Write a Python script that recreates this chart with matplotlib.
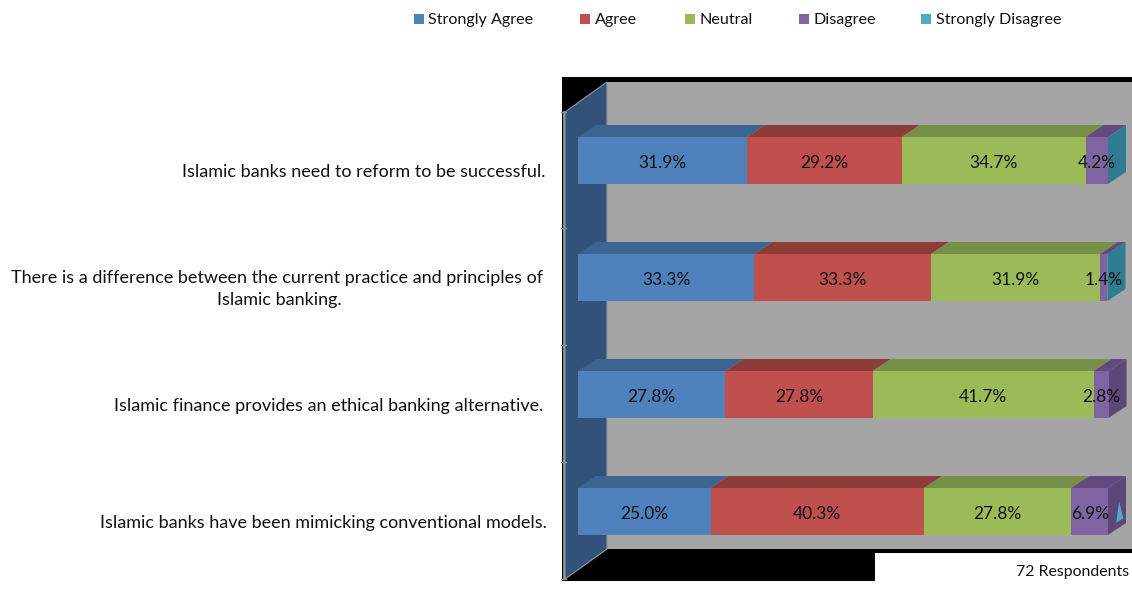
import numpy as np
import matplotlib
matplotlib.use('Agg')
import matplotlib.pyplot as plt
from matplotlib.patches import Polygon, Rectangle

#---------------------- DATA
statements = ["Islamic banks need to reform to be successful.",
              "There is a difference between the current practice and principles of\nIslamic banking.",
              "Islamic finance provides an ethical banking alternative.",
              "Islamic banks have been mimicking conventional models."]
series = ["Strongly Agree", "Agree", "Neutral", "Disagree", "Strongly Disagree"]
strongly_agree = [31.9, 33.3, 27.8, 25.0]
agree = [29.2, 33.3, 27.8, 40.3]
neutral = [34.7, 31.9, 41.7, 27.8]
disagree = [4.2, 1.4, 2.8, 6.9]
strongly_disagree = [0.0, 0.0, 0.0, 0.0]
values = [strongly_agree, agree, neutral, disagree, strongly_disagree]
respondents = "72 Respondents"

colors = ['#4f81bd', '#c0504d', '#9bbb59', '#8064a2', '#4bacc6']
tops = ['#3c6491', '#8e3c3a', '#76904a', '#62497f', '#327c90']
sides = ['#3a6188', '#8e3c3a', '#76904a', '#5d4678', '#2f7b8f']
last_side = [4, 4, 3, 3]

W, H = 1132, 591
PX = 5.3      # pixels per percent
X0 = 578
ROW = 117
Y0 = 160.5
BH = 47 / ROW
DX = 18 / PX  # bar depth in data units
DY = 12 / ROW

plt.rcParams['font.family'] = ['Lato', 'DejaVu Sans']
fig = plt.figure(figsize=(W / 100, H / 100), dpi=100)
ax = fig.add_axes([0, 0, 1, 1])
ax.set_xlim(-X0 / PX, (W - X0) / PX)
ax.set_ylim((H - Y0) / ROW, -Y0 / ROW)
ax.axis('off')

def dx(px):
    return (px - X0) / PX

def dy(py):
    return (py - Y0) / ROW

def poly(pts, **kw):
    ax.add_patch(Polygon([(dx(a), dy(b)) for a, b in pts], closed=True, **kw))

#---> chart walls
poly([(562, 77), (1132, 77), (1132, 581), (562, 581)], fc='black', ec='none', zorder=1)
poly([(607, 82), (1132, 82), (1132, 549), (607, 549)], fc='#a5a5a5', ec='none', zorder=2)
poly([(565, 112), (607, 82), (607, 549), (565, 579)], fc='#33527a', ec='#8a9aa8', lw=0.8, zorder=3)
ax.plot([dx(564), dx(564)], [dy(112), dy(579)], color='#a0a0a0', lw=1.2, zorder=4)
for t in [112, 228, 345, 462, 579]:
    ax.plot([dx(561), dx(566)], [dy(t), dy(t)], color='#909090', lw=1, zorder=4)

#---> bars
ypos = np.arange(len(statements))
for r in ypos:
    left = 0.0
    top = r - BH / 2
    bot = r + BH / 2
    for s in range(len(series)):
        v = values[s][r]
        if v > 0:
            ax.barh(r, v, BH, left=left, color=colors[s], edgecolor='none', zorder=6)
            ax.add_patch(Polygon([(left, top), (left + v, top), (left + v + DX, top - DY), (left + DX, top - DY)],
                                 closed=True, fc=tops[s], ec='none', zorder=5))
            ax.text(left + v / 2, r + 0.02, "%.1f%%" % v, ha='center', va='center', fontsize=12.5,
                    color='#111111', zorder=8)
        left += v
    c = sides[last_side[r]]
    ax.add_patch(Polygon([(left, top), (left + DX, top - DY), (left + DX, bot - DY), (left, bot)],
                         closed=True, fc=c, ec='none', zorder=5))
    if r == 3:
        ax.add_patch(Polygon([(left + DX * 0.45, bot - DY * 1.0), (left + DX * 0.62, bot - DY * 2.8),
                              (left + DX * 0.85, bot - DY * 1.4)], closed=True, fc=colors[4],
                             ec='none', zorder=6))

#---> category labels
for r, s in enumerate(statements):
    right = [546, 543, 543, 547][r]
    yc = r + 16.5 / ROW   # baseline below the bar centre
    if '\n' in s:
        a, b = s.split('\n')
        ax.text(dx(right), yc - 11.5 / ROW, a, ha='right', va='baseline', fontsize=13, color='#111111')
        ax.text(dx(279), yc + 11.5 / ROW, b, ha='center', va='baseline', fontsize=13, color='#111111')
    else:
        ax.text(dx(right), yc, s, ha='right', va='baseline', fontsize=13, color='#111111')

#---> legend
leg_x = [414, 580, 685, 799, 921]
for x, c, s in zip(leg_x, colors, series):
    ax.add_patch(Rectangle((dx(x), dy(14)), 10 / PX, 10 / ROW, fc=c, ec='none'))
    ax.text(dx(x + 14.5), dy(24), s, ha='left', va='baseline', fontsize=11.6, color='#111111')

#---> respondents box
ax.add_patch(Rectangle((dx(875), dy(553)), 257 / PX, 38 / ROW, fc='white', ec='none', zorder=9))
ax.text(dx(1129), dy(572), respondents, ha='right', va='center', fontsize=11.4, color='#111111', zorder=10)

plt.savefig('out.png', dpi=100)
